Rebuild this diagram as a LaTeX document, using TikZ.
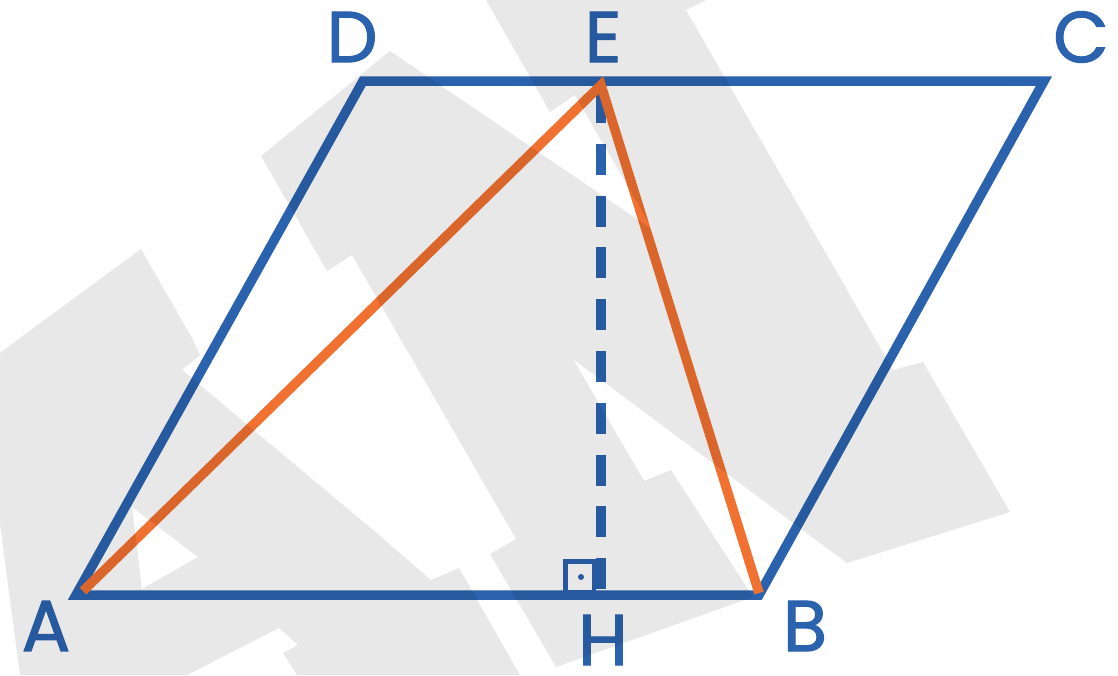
\documentclass[tikz,border=0pt]{standalone}
\usepackage{fontspec}
\newfontfamily\lab{Poppins}[FakeBold=1.6]
\definecolor{pblue}{RGB}{43,98,174}
\definecolor{porange}{RGB}{241,113,49}
\definecolor{wm}{RGB}{232,232,232}
\begin{document}
\begin{tikzpicture}[x=1pt,y=-1pt,
  edge/.style={line width=9.5pt, draw=pblue, line join=miter},
  tri/.style={line width=9.5pt, draw=porange, line join=miter},
  altitude/.style={line width=10pt, draw=pblue, dash pattern=on 31pt off 20.8pt},
  rmark/.style={line width=4.5pt, draw=pblue},
  lbl/.style={inner sep=0pt, text=pblue, font=\lab\fontsize{72}{72}\selectfont},
  wmark/.style={fill=wm, blend mode=multiply, draw=none}]
\useasboundingbox (0,0) rectangle (1118,675);
\fill[white] (0,0) rectangle (1118,675);
% vertices
\coordinate (A) at (76,595);
\coordinate (B) at (759,595);
\coordinate (C) at (1044,81);
\coordinate (D) at (363,81);
\coordinate (Et) at (601,92);
\coordinate (Hb) at (601,590);
\coordinate (Ao) at (83,591);
\coordinate (Eo) at (601,85);
\coordinate (Bo) at (759,593);
% parallelogram
\draw[edge] (A) -- (B) -- (C) -- (D) -- cycle;
% altitude and right angle mark
\draw[altitude] (Et) -- (Hb);
\draw[rmark] (565.5,561.5) rectangle (594,592);
\fill[pblue] (581,577) circle (3pt);
% triangle
\draw[tri] (Ao) -- (Eo) -- (Bo);
% labels
\node[lbl] (lD) at (352,37) {D};
\node[lbl] (lE) at (603,37) {E};
\node[lbl] (lC) at (1081,37) {C};
\node[lbl] (lA) at (46,626) {A};
\node[lbl] (lH) at (603,640) {H};
\node[lbl] (lB) at (805,626) {B};
% watermark
\fill[wmark, even odd rule] (141,249) -- (192,338) -- (200,355) -- (182,370) -- (373,530) -- (431,580) -- (459,568) -- (520,675) -- (297,675) -- (283,653) -- (298,645) -- (279,628) -- (187,675) -- (20,675) -- (0,524) -- (0,353) -- (20,338) -- cycle
  (132,507) -- (198,557) -- (142,589) -- cycle;
\fill[wmark] (486,0) -- (706,0) -- (686,10) -- (893,370) -- (923,362) -- (1010,512) -- (847,563) -- (573,359) -- (644,481) -- (671,470) -- (753,597) -- (556,667) -- (490,554) -- (516,539) -- (352,255) -- (327,271) -- (261,156) -- (390,51) -- (653,230) -- (575,95) -- (550,112) -- cycle;
\end{tikzpicture}
\end{document}
